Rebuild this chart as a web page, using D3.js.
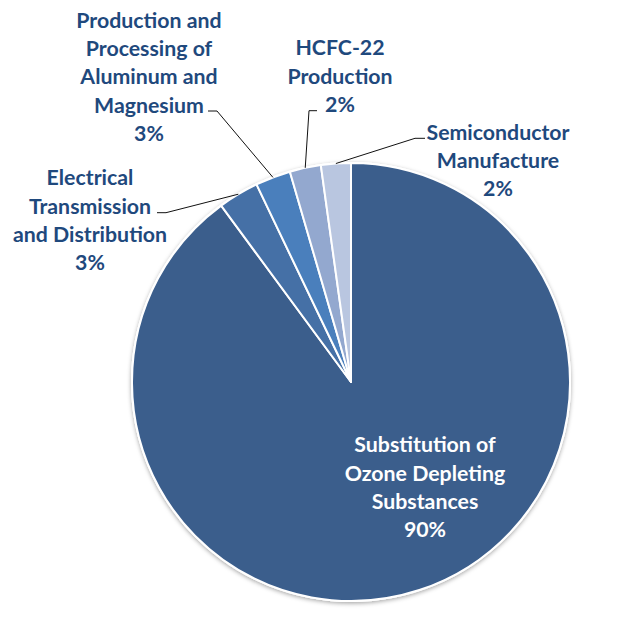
<!DOCTYPE html>
<html>
<head>
<meta charset="utf-8">
<script src="https://cdn.jsdelivr.net/npm/d3@7/dist/d3.min.js"></script>
<style>
  body { margin: 0; background: #fff; }
  .lbl { font-family: Lato, "Open Sans", sans-serif; font-weight: bold; font-size: 21.3px; }
</style>
</head>
<body>
<div class="chart"></div>
<script>
// data, clockwise from 12 o'clock
var categories = [
  "Substitution of Ozone Depleting Substances",
  "Electrical Transmission and Distribution",
  "Production and Processing of Aluminum and Magnesium",
  "HCFC-22 Production",
  "Semiconductor Manufacture"
];
var values = [89.9, 3.0, 2.6, 2.3, 2.2];
var labelLines = [
  ["Substitution of", "Ozone Depleting", "Substances"],
  ["Electrical", "Transmission", "and Distribution"],
  ["Production and", "Processing of", "Aluminum and", "Magnesium"],
  ["HCFC-22", "Production"],
  ["Semiconductor", "Manufacture"]
];

var colors = ["#3b5e8c", "#4570a6", "#4a7fbc", "#93a8cf", "#b9c6e0"];

var width = 644, height = 627;
var cx = 351, cy = 382, radius = 219;
var lineH = 28.2;

// label layout: center x, y of first line; where the leader leaves the text
var labelLayout = [
  { x: 425, y: 445, inside: true },
  { x: 90, y: 178, leader: [[157, 212.7], [166, 212.7]] },
  { x: 149, y: 20.5, leader: [[208, 111], [217, 111]] },
  { x: 340, y: 48, leader: [[317, 110.7], [309, 110.7]] },
  { x: 498, y: 132.5, leader: [[425, 138.3], [415, 138.3]] }
];

const svg = d3.select(".chart")
              .append("svg")
              .attr("width", width)
              .attr("height", height);

var defs = svg.append("defs");
var shadow = defs.append("filter")
                 .attr("id", "shadow")
                 .attr("x", "-10%").attr("y", "-10%")
                 .attr("width", "120%").attr("height", "120%");
shadow.append("feDropShadow")
      .attr("dx", 0).attr("dy", 1.5)
      .attr("stdDeviation", 2)
      .attr("flood-color", "#000")
      .attr("flood-opacity", 0.35);

var pie = d3.pie().sort(null).value(d => d);
var arcs = pie(values);
var arc = d3.arc().innerRadius(0).outerRadius(radius);

var g = svg.append("g")
           .attr("transform", "translate(" + cx + "," + cy + ")");

g.append("circle")
 .attr("r", radius + 1)
 .attr("fill", "#fff")
 .attr("filter", "url(#shadow)");

g.selectAll("path.slice")
 .data(arcs)
 .enter()
 .append("path")
 .attr("class", "slice")
 .attr("d", arc)
 .attr("fill", (d, i) => colors[i])
 .attr("stroke", "#fff")
 .attr("stroke-width", 2)
 .attr("stroke-linejoin", "round");

// leader lines: from the text to the rim at the slice's mid angle
arcs.forEach((d, i) => {
  var lay = labelLayout[i];
  if (lay.inside) return;
  var mid = (d.startAngle + d.endAngle) / 2;
  var ex = cx + radius * Math.sin(mid);
  var ey = cy - radius * Math.cos(mid);
  var pts = lay.leader.concat([[ex, ey]]);
  svg.append("path")
     .attr("d", d3.line()(pts))
     .attr("fill", "none")
     .attr("stroke", "#111")
     .attr("stroke-width", 1);
});

// labels
arcs.forEach((d, i) => {
  var lay = labelLayout[i];
  var lines = labelLines[i].concat([Math.round(values[i]) + "%"]);
  var t = svg.append("text")
             .attr("class", "lbl")
             .attr("text-anchor", "middle")
             .attr("fill", lay.inside ? "#ffffff" : "#1f497d");
  lines.forEach((s, j) => {
    t.append("tspan")
     .attr("x", lay.x)
     .attr("y", lay.y + j * lineH)
     .attr("dy", "0.35em")
     .text(s);
  });
});
</script>
</body>
</html>
